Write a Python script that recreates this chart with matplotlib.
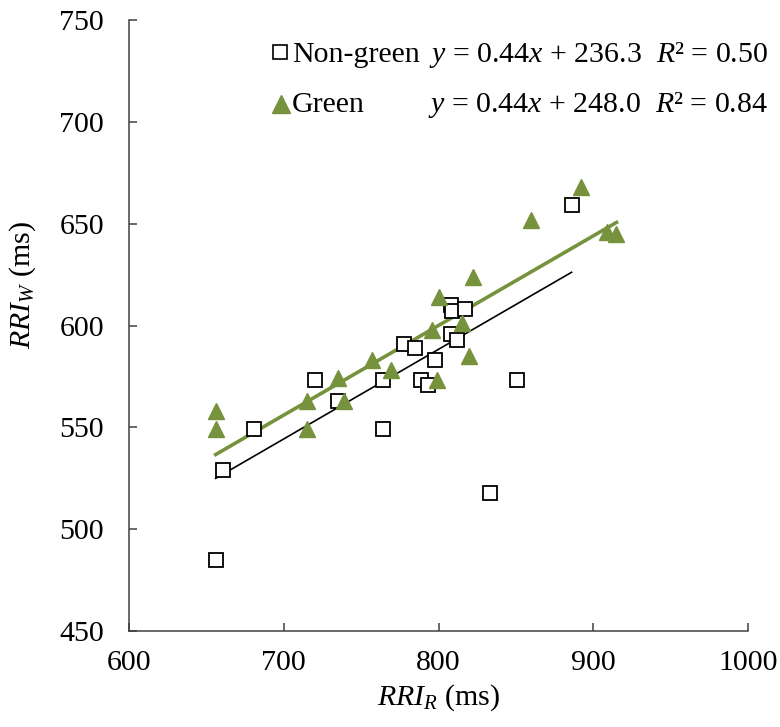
import numpy as np
import matplotlib
matplotlib.use("Agg")
import matplotlib.pyplot as plt

plt.rcParams["font.family"] = ["Liberation Serif", "DejaVu Serif"]
plt.rcParams["mathtext.fontset"] = "custom"
plt.rcParams["mathtext.rm"] = "Liberation Serif"
plt.rcParams["mathtext.it"] = "Liberation Serif:italic"

# RRI measurements (ms)
nongreen_rri_r = [656, 661, 681, 720, 735, 764, 764, 778, 785, 789, 793, 798,
                  808, 809, 817, 808, 812, 833, 851, 886]
nongreen_rri_w = [485, 529, 549, 573, 563, 573, 549, 591, 589, 573, 571, 583,
                  610, 607, 608, 596, 593, 518, 573, 659]

green_rri_r = [656, 656, 715, 715, 735, 739, 757, 769, 799, 796, 800, 815,
               820, 822, 860, 892, 909, 915]
green_rri_w = [558, 549, 563, 549, 574, 563, 583, 578, 573, 598, 614, 601,
               585, 624, 652, 668, 646, 645]

series_names = ["Non-green", "Green"]

# Linear fits (slope, intercept, R^2)
nongreen_fit = (0.44, 236.3, 0.50)
green_fit = (0.44, 248.0, 0.84)

x_ticks = [600, 700, 800, 900, 1000]
y_ticks = [450, 500, 550, 600, 650, 700, 750]

green_col = "#76923C"
axis_col = "#404040"
FS = 21.5
W, H = 780, 727

fig = plt.figure(figsize=(W / 100, H / 100), dpi=100)
ax = fig.add_axes([129 / W, 1 - 631 / H, 619 / W, 611 / H])

ax.plot(nongreen_rri_r, nongreen_rri_w, linestyle="none", marker="s",
        markersize=10, markerfacecolor="white", markeredgecolor="black",
        markeredgewidth=1.3, zorder=3)
ax.plot(green_rri_r, green_rri_w, linestyle="none", marker="^",
        markersize=12, color=green_col, zorder=4)

# Trend lines over each series' range
xa = np.array([min(nongreen_rri_r), max(nongreen_rri_r)])
ax.plot(xa, nongreen_fit[0] * xa + nongreen_fit[1], color="black", lw=1.2,
        zorder=2)
xb = np.array([min(green_rri_r), max(green_rri_r)])
ax.plot(xb, green_fit[0] * xb + green_fit[1], color=green_col, lw=2.6,
        zorder=2)

ax.set_xlim(600, 1000)
ax.set_ylim(450, 750)
ax.set_xticks(x_ticks)
ax.set_yticks(y_ticks)
ax.tick_params(direction="in", length=6, width=1.1, labelsize=FS,
               color=axis_col)
ax.tick_params(axis="x", pad=14)
ax.tick_params(axis="y", pad=18)
for s in ("top", "right"):
    ax.spines[s].set_visible(False)
for s in ("left", "bottom"):
    ax.spines[s].set_linewidth(1.1)
    ax.spines[s].set_color(axis_col)

ax.set_xlabel(r"$RRI_R$ (ms)", fontsize=FS, labelpad=4)
ax.set_ylabel(r"$RRI_W$ (ms)", fontsize=FS)
ax.yaxis.set_label_coords((38 - 129) / 619, (631 - 285) / 611)

# Key with fitted equations
def eq_text(fit):
    m, b, r2 = fit
    return (r"$y$ = " + f"{m:.2f}" + r"$x$ + " + f"{b:.1f}" + "  "
            + r"$R$² = " + f"{r2:.2f}")

ax.plot([280 / W], [1 - 51.5 / H], transform=fig.transFigure, clip_on=False,
        linestyle="none", marker="s", markersize=9.5, markerfacecolor="white",
        markeredgecolor="black", markeredgewidth=1.2)
ax.plot([281 / W], [1 - 103.5 / H], transform=fig.transFigure, clip_on=False,
        linestyle="none", marker="^", markersize=12.5, color=green_col)

rows = [(62, series_names[0], nongreen_fit), (112, series_names[1], green_fit)]
for base, name, fit in rows:
    fig.text(292 / W, 1 - base / H, name, ha="left", va="baseline",
             fontsize=FS)
    fig.text(768 / W, 1 - base / H, eq_text(fit), ha="right",
             va="baseline", fontsize=FS)

fig.savefig("out.png", dpi=100)
